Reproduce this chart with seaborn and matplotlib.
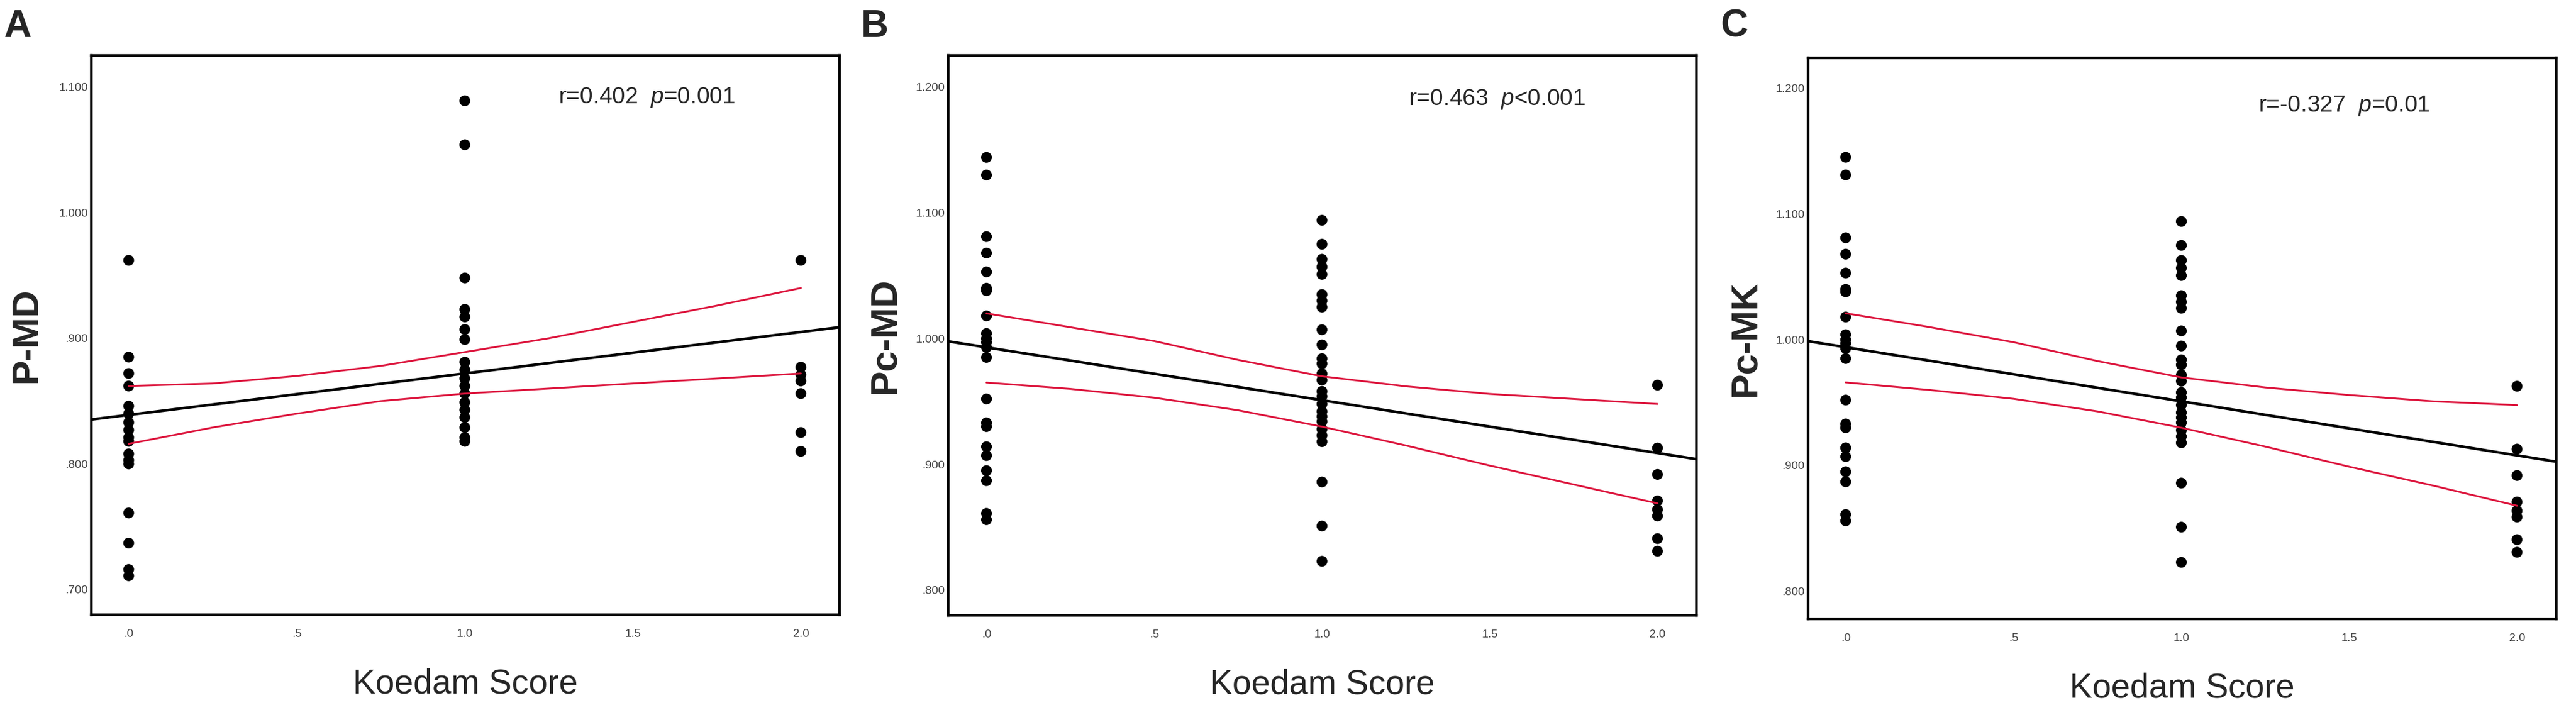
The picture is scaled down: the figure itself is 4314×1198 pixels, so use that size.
import numpy as np
import pandas as pd
import seaborn as sns
import matplotlib.pyplot as plt
from matplotlib.ticker import FuncFormatter

koedam_levels = [0.0, 1.0, 2.0]

pmd_0 = [0.962, 0.885, 0.872, 0.862, 0.846, 0.840, 0.833, 0.827, 0.821, 0.818,
         0.808, 0.803, 0.800, 0.761, 0.737, 0.716, 0.711]
pmd_1 = [1.089, 1.054, 0.948, 0.923, 0.917, 0.907, 0.899, 0.881, 0.875, 0.868,
         0.862, 0.856, 0.849, 0.843, 0.837, 0.829, 0.821, 0.818]
pmd_2 = [0.962, 0.877, 0.871, 0.866, 0.856, 0.825, 0.810]

pcmd_0 = [1.144, 1.130, 1.081, 1.068, 1.053, 1.040, 1.038, 1.018, 1.004, 1.000,
          0.997, 0.993, 0.985, 0.952, 0.933, 0.930, 0.914, 0.907, 0.895, 0.887,
          0.861, 0.856]
pcmd_1 = [1.094, 1.075, 1.063, 1.057, 1.051, 1.035, 1.030, 1.025, 1.007, 0.995,
          0.984, 0.980, 0.972, 0.967, 0.958, 0.954, 0.948, 0.942, 0.938, 0.934,
          0.928, 0.923, 0.918, 0.886, 0.851, 0.823]
pcmd_2 = [0.963, 0.913, 0.892, 0.871, 0.864, 0.859, 0.841, 0.831]

pcmk_0 = [1.145, 1.131, 1.081, 1.068, 1.053, 1.040, 1.038, 1.018, 1.004, 1.000,
          0.997, 0.993, 0.985, 0.952, 0.933, 0.930, 0.914, 0.907, 0.895, 0.887,
          0.861, 0.856]
pcmk_1 = [1.094, 1.075, 1.063, 1.057, 1.051, 1.035, 1.030, 1.025, 1.007, 0.995,
          0.984, 0.980, 0.972, 0.967, 0.958, 0.954, 0.948, 0.942, 0.938, 0.934,
          0.928, 0.923, 0.918, 0.886, 0.851, 0.823]
pcmk_2 = [0.963, 0.913, 0.892, 0.871, 0.864, 0.859, 0.841, 0.831]

# fit line (value at x=0 and x=2) and 95% CI curves
fit_x = [0.0, 2.0]
fit_pmd = [0.839, 0.905]
fit_pcmd = [0.993, 0.909]
fit_pcmk = [0.994, 0.908]

ci_x = [0, 0.25, 0.5, 0.75, 1.0, 1.25, 1.5, 1.75, 2.0]
ci_pmd_hi = [0.862, 0.864, 0.870, 0.878, 0.889, 0.900, 0.913, 0.926, 0.940]
ci_pmd_lo = [0.816, 0.829, 0.840, 0.850, 0.856, 0.860, 0.864, 0.868, 0.872]
ci_pcmd_hi = [1.020, 1.009, 0.998, 0.983, 0.970, 0.962, 0.956, 0.952, 0.948]
ci_pcmd_lo = [0.965, 0.960, 0.953, 0.943, 0.930, 0.915, 0.899, 0.884, 0.869]
ci_pcmk_hi = [1.021, 1.010, 0.998, 0.983, 0.970, 0.962, 0.956, 0.951, 0.948]
ci_pcmk_lo = [0.966, 0.960, 0.953, 0.943, 0.930, 0.915, 0.899, 0.884, 0.868]

panel_letters = ["A", "B", "C"]
y_labels = ["P-MD", "Pc-MD", "Pc-MK"]
stats_r = ["r=0.402", "r=0.463", "r=-0.327"]
stats_p = ["=0.001", "<0.001", "=0.01"]
x_ticks = [0.0, 0.5, 1.0, 1.5, 2.0]

sns.set_style("white")
plt.rcParams["font.family"] = ["Liberation Sans", "DejaVu Sans"]
plt.rcParams["mathtext.fontset"] = "custom"
plt.rcParams["mathtext.rm"] = "Liberation Sans"
plt.rcParams["mathtext.it"] = "Liberation Sans:italic"

RED = "#DC143C"


# SPSS style labels: drop the leading zero (".900", ".5")
def spss_fmt(v, pos):
    s = f"{v:.3f}"
    return s[1:] if s.startswith("0") else s


def spss_fmt_x(v, pos):
    s = f"{v:.1f}"
    return s[1:] if s.startswith("0") else s


panels = [
    dict(groups=[pmd_0, pmd_1, pmd_2], fit=fit_pmd, hi=ci_pmd_hi, lo=ci_pmd_lo,
         ylim=(0.680, 1.125), yticks=[0.7, 0.8, 0.9, 1.0, 1.1],
         xlim=(-0.111, 2.115), rect=[0.03547, 0.14023, 0.29045, 0.78214],
         txt=(0.624, 0.915), ylab=(-0.087, 0.50)),
    dict(groups=[pcmd_0, pcmd_1, pcmd_2], fit=fit_pcmd, hi=ci_pcmd_hi, lo=ci_pcmd_lo,
         ylim=(0.780, 1.225), yticks=[0.8, 0.9, 1.0, 1.1, 1.2],
         xlim=(-0.114, 2.116), rect=[0.36810, 0.13940, 0.29045, 0.78300],
         txt=(0.615, 0.912), ylab=(-0.085, 0.50)),
    dict(groups=[pcmk_0, pcmk_1, pcmk_2], fit=fit_pcmk, hi=ci_pcmk_hi, lo=ci_pcmk_lo,
         ylim=(0.778, 1.224), yticks=[0.8, 0.9, 1.0, 1.1, 1.2],
         xlim=(-0.112, 2.117), rect=[0.70190, 0.13439, 0.29045, 0.78460],
         txt=(0.602, 0.904), ylab=(-0.084, 0.50)),
]

fig = plt.figure(figsize=(43.14, 11.98), dpi=100)

for i, p in enumerate(panels):
    ax = fig.add_axes(p["rect"])

    df = pd.DataFrame({
        "koedam": np.concatenate([[lvl] * len(g) for lvl, g in zip(koedam_levels, p["groups"])]),
        "value": np.concatenate(p["groups"]),
    })
    sns.scatterplot(data=df, x="koedam", y="value", ax=ax, color="black",
                    s=170, edgecolor="none", zorder=3, legend=False)

    # regression line extended across the plot area
    slope = (p["fit"][1] - p["fit"][0]) / (fit_x[1] - fit_x[0])
    line_x = list(p["xlim"])
    line_y = [p["fit"][0] + slope * xv for xv in line_x]
    sns.lineplot(x=line_x, y=line_y, ax=ax, color="black", linewidth=3.2,
                 zorder=2, legend=False)

    ci_df = pd.DataFrame({"x": ci_x, "hi": p["hi"], "lo": p["lo"]})
    sns.lineplot(data=ci_df, x="x", y="hi", ax=ax, color=RED, linewidth=2.2, zorder=4)
    sns.lineplot(data=ci_df, x="x", y="lo", ax=ax, color=RED, linewidth=2.2, zorder=4)

    ax.set_xlim(p["xlim"])
    ax.set_ylim(p["ylim"])
    ax.set_xticks(x_ticks)
    ax.set_yticks(p["yticks"])
    ax.xaxis.set_major_formatter(FuncFormatter(spss_fmt_x))
    ax.yaxis.set_major_formatter(FuncFormatter(spss_fmt))
    ax.tick_params(axis="both", length=0, labelsize=14, labelcolor="#444444")
    ax.tick_params(axis="y", pad=4)
    ax.tick_params(axis="x", pad=17)

    for sp in ax.spines.values():
        sp.set_visible(True)
        sp.set_color("black")
        sp.set_linewidth(3.2)

    ax.set_xlabel("Koedam Score", fontsize=41)
    ax.xaxis.set_label_coords(0.5, -0.124)
    ax.xaxis.label.set_va("center")
    ax.set_ylabel(y_labels[i], fontsize=45, fontweight="bold")
    ax.yaxis.set_label_coords(*p["ylab"])
    ax.yaxis.label.set_va("center")

    ax.text(p["txt"][0], p["txt"][1], stats_r[i] + "  $p$" + stats_p[i],
            transform=ax.transAxes, fontsize=28, ha="left", va="baseline")

    fig.text(p["rect"][0] - 0.034, 1 - 15 / 1198, panel_letters[i],
             fontsize=46, fontweight="bold", ha="left", va="top")

fig.savefig("out.png", dpi=100)
